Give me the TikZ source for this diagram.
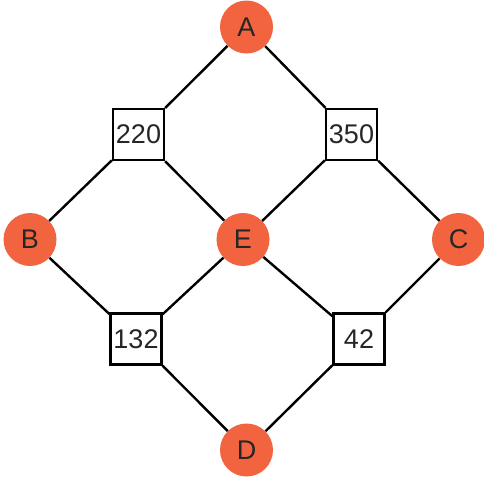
\documentclass[tikz,border=0pt]{standalone}
\usepackage{fontspec}
\setmainfont{Liberation Sans}
\definecolor{nodeorange}{HTML}{F26440}
\definecolor{txt}{HTML}{262626}
\begin{document}
\begin{tikzpicture}[x=1pt,y=-1pt,
  city/.style={circle,fill=nodeorange,draw=none,minimum size=53pt,inner sep=0pt,text=txt,font=\fontsize{27}{27}\selectfont},
  cost/.style={rectangle,draw=black,line width=2.4pt,fill=white,minimum size=51pt,inner sep=0pt,text=txt,font=\fontsize{27}{27}\selectfont},
  link/.style={draw=black,line width=2.4pt}]
\useasboundingbox (0,0) rectangle (484,480);
\node[city] (A) at (246.5,27) {A};
\node[city] (B) at (30,239.5) {B};
\node[city] (E) at (243,239.5) {E};
\node[city] (C) at (458.5,239.5) {C};
\node[city] (D) at (246.5,450) {D};
\node[cost] (w220) at (138.5,134.5) {220};
\node[cost] (w350) at (351.5,134.5) {350};
\node[cost] (w132) at (136,339) {132};
\node[cost] (w42) at (359,339) {42};
\path[link] (A) -- (w220);
\path[link] (A) -- (w350);
\path[link] (w220) -- (B);
\path[link] (w220) -- (E);
\path[link] (w350) -- (E);
\path[link] (w350) -- (C);
\path[link] (B) -- (w132);
\path[link] (w132) -- (E);
\path[link] (w132) -- (D);
\path[link] (E) -- (w42);
\path[link] (w42) -- (C);
\path[link] (w42) -- (D);
\end{tikzpicture}
\end{document}
